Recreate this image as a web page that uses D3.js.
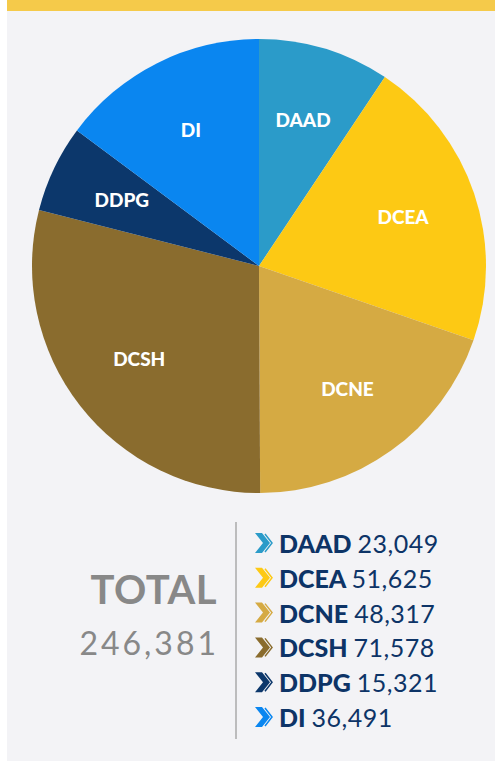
<!DOCTYPE html>
<html>
<head>
<meta charset="utf-8">
<script src="https://cdn.jsdelivr.net/npm/d3@7"></script>
<style>
  body { margin: 0; background: #fff; }
  svg { display: block; }
</style>
</head>
<body>
<div class="chart"></div>
<script>
const categories = ["DAAD", "DCEA", "DCNE", "DCSH", "DDPG", "DI"]
const values = [23049, 51625, 48317, 71578, 15321, 36491]
const colors = ["#2b9bc9", "#fdc914", "#d5aa43", "#8a6c2e", "#0c376b", "#0a86f0"]

const width = 495
const height = 761

const data = categories.map((c, i) => ({ name: c, value: values[i], color: colors[i] }))
const total = d3.sum(values)
const fmt = d3.format(",")

const svg = d3.select(".chart")
    .append("svg")
    .attr("width", width)
    .attr("height", height)
    .attr("viewBox", [0, 0, width, height])

// panel + top bar
svg.append("rect")
    .attr("x", 7).attr("y", 0)
    .attr("width", width - 7).attr("height", height)
    .attr("fill", "#f3f3f6")

svg.append("rect")
    .attr("x", 7).attr("y", 0)
    .attr("width", width - 7).attr("height", 11)
    .attr("fill", "#f5ca4a")

// pie
const cx = 259, cy = 266, radius = 227

const pie = d3.pie().value(d => d.value).sort(null)
const arc = d3.arc().innerRadius(0).outerRadius(radius)
const labelArc = d3.arc().innerRadius(152).outerRadius(152)

const g = svg.append("g").attr("transform", `translate(${cx},${cy})`)

g.selectAll("path")
    .data(pie(data))
    .join("path")
    .attr("d", arc)
    .attr("fill", d => d.data.color)

g.selectAll("text")
    .data(pie(data))
    .join("text")
    .attr("x", d => labelArc.centroid(d)[0])
    .attr("y", d => labelArc.centroid(d)[1])
    .attr("dy", "0.36em")
    .attr("text-anchor", "middle")
    .attr("fill", "#fff")
    .attr("font-family", "Lato, sans-serif")
    .attr("font-weight", 900)
    .attr("font-size", 19)
    .text(d => d.data.name)

// total
svg.append("text")
    .attr("x", 217).attr("y", 604)
    .attr("text-anchor", "end")
    .attr("fill", "#888888")
    .attr("font-family", "Lato, sans-serif")
    .attr("font-weight", 700)
    .attr("font-size", 40)
    .attr("letter-spacing", 0.5)
    .text("TOTAL")

svg.append("text")
    .attr("x", 219).attr("y", 655)
    .attr("text-anchor", "end")
    .attr("fill", "#888888")
    .attr("font-family", "Lato, sans-serif")
    .attr("font-weight", 400)
    .attr("font-size", 32)
    .attr("letter-spacing", 3)
    .text(fmt(total))

// divider
svg.append("line")
    .attr("x1", 236).attr("x2", 236)
    .attr("y1", 522).attr("y2", 739)
    .attr("stroke", "#aaaaaa")
    .attr("stroke-width", 1.5)

// legend
const rowY = d3.scalePoint().domain(categories).range([553, 727])

const legend = svg.append("g")
    .selectAll("g")
    .data(data)
    .join("g")
    .attr("transform", d => `translate(255,${rowY(d.name)})`)

legend.append("path")
    .attr("d", "M0,-20 L7,-20 L15,-10 L7,0 L0,0 L8,-10 Z")
    .attr("fill", d => d.color)

legend.append("path")
    .attr("d", "M10,-19 L17,-10 L10,-1")
    .attr("fill", "none")
    .attr("stroke", d => d.color)
    .attr("stroke-width", 1.5)

const lt = legend.append("text")
    .attr("x", 24)
    .attr("fill", "#0d3467")
    .attr("font-family", "Lato, sans-serif")
    .attr("font-size", 25)

lt.append("tspan")
    .attr("font-weight", 900)
    .text(d => d.name + " ")

lt.append("tspan")
    .attr("font-weight", 400)
    .attr("letter-spacing", 0.5)
    .text(d => fmt(d.value))
</script>
</body>
</html>
